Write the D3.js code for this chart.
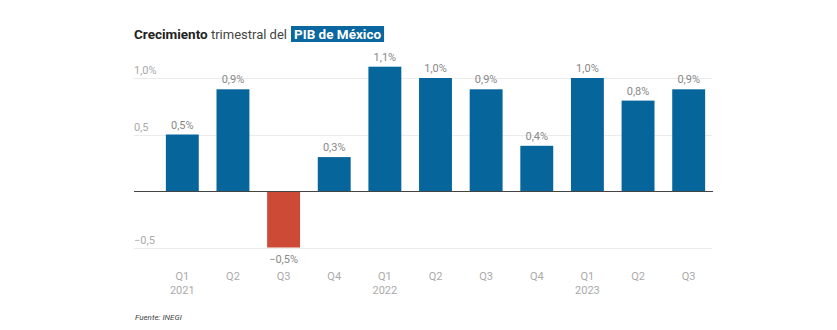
<!DOCTYPE html>
<html>
<head>
<meta charset="utf-8">
<script src="https://cdn.jsdelivr.net/npm/d3@7"></script>
<style>
  body { margin: 0; background: #fff; }
  svg { display: block; font-family: Roboto, 'Liberation Sans', sans-serif; }
</style>
</head>
<body>
<div id="chart"></div>
<script>
'use strict'

// quarterly GDP growth, %
const quarters = ['Q1', 'Q2', 'Q3', 'Q4', 'Q1', 'Q2', 'Q3', 'Q4', 'Q1', 'Q2', 'Q3']
const years = ['2021', '', '', '', '2022', '', '', '', '2023', '', '']
const growth = [0.5, 0.9, -0.5, 0.3, 1.1, 1.0, 0.9, 0.4, 1.0, 0.8, 0.9]
const yTicks = [-0.5, 0.5, 1.0]
const yTickLabels = ['\u22120,5', '0,5', '1,0%']

const width = 837
const height = 330
const fmt = (v) => (v < 0 ? '\u2212' : '') + d3.format('.1f')(Math.abs(v)).replace('.', ',') + '%'

const svg = d3.select('#chart').append('svg')
  .attr('width', width)
  .attr('height', height)

const idx = growth.map((d, i) => i)

const x = d3.scaleBand()
  .domain(idx)
  .range([157, 714])
  .paddingInner(0.35)
  .paddingOuter(0.175)

const y = d3.scaleLinear()
  .domain([-0.5, 1.1])
  .range([247.5, 66.7])

// title, with the highlighted part in a blue box
const title = svg.append('text')
  .attr('x', 134)
  .attr('y', 38.5)
  .style('font-size', '13.5px')
  .style('fill', '#222')
title.append('tspan').style('font-weight', 700).text('Crecimiento')
title.append('tspan').style('fill', '#444').style('font-size', '13px').text(' trimestral del')
const titleEnd = 134 + title.node().getComputedTextLength()

const hl = svg.append('g')
const hlRect = hl.append('rect')
const hlText = hl.append('text')
  .attr('x', titleEnd + 7)
  .attr('y', 38.5)
  .style('font-size', '13.5px')
  .style('font-weight', 700)
  .style('fill', '#fff')
  .text('PIB de México')
hlRect
  .attr('x', titleEnd + 4).attr('y', 26)
  .attr('width', hlText.node().getComputedTextLength() + 6).attr('height', 16)
  .attr('fill', '#0b67a0')

// gridlines + y labels
const grid = svg.append('g')
grid.selectAll('line')
  .data(yTicks)
  .enter().append('line')
  .attr('x1', 134).attr('x2', 712)
  .attr('y1', (d) => Math.round(y(d)) + 0.5)
  .attr('y2', (d) => Math.round(y(d)) + 0.5)
  .attr('stroke', '#ebebeb')
grid.selectAll('text')
  .data(yTicks)
  .enter().append('text')
  .attr('x', 134)
  .attr('y', (d) => y(d) - 4)
  .style('font-size', '11px')
  .style('fill', '#aaa')
  .text((d, i) => yTickLabels[i])

// bars
svg.append('g').selectAll('rect')
  .data(growth)
  .enter().append('rect')
  .attr('x', (d, i) => x(i))
  .attr('width', x.bandwidth())
  .attr('y', (d) => y(Math.max(0, d)))
  .attr('height', (d) => Math.abs(y(d) - y(0)))
  .attr('fill', (d) => d < 0 ? '#cc4a36' : '#06669c')

// zero line
svg.append('line')
  .attr('x1', 134).attr('x2', 713)
  .attr('y1', Math.round(y(0)) + 0.5)
  .attr('y2', Math.round(y(0)) + 0.5)
  .attr('stroke', '#444')

// value labels
svg.append('g').selectAll('text')
  .data(growth)
  .enter().append('text')
  .attr('x', (d, i) => x(i) + x.bandwidth() / 2)
  .attr('y', (d) => d < 0 ? y(d) + 15 : y(d) - 6)
  .attr('text-anchor', 'middle')
  .style('font-size', '11px')
  .style('fill', '#888')
  .text(fmt)

// x axis labels
const xl = svg.append('g').selectAll('text')
  .data(idx)
  .enter().append('text')
  .attr('text-anchor', 'middle')
  .style('font-size', '11px')
  .style('fill', '#aaa')
xl.append('tspan').attr('x', (i) => x(i) + x.bandwidth() / 2).attr('y', 280).text((i) => quarters[i])
xl.append('tspan').attr('x', (i) => x(i) + x.bandwidth() / 2).attr('y', 294).text((i) => years[i])

// source
svg.append('text')
  .attr('x', 135)
  .attr('y', 320)
  .style('font-size', '8px')
  .style('font-style', 'italic')
  .style('fill', '#444')
  .text('Fuente: INEGI')
</script>
</body>
</html>
